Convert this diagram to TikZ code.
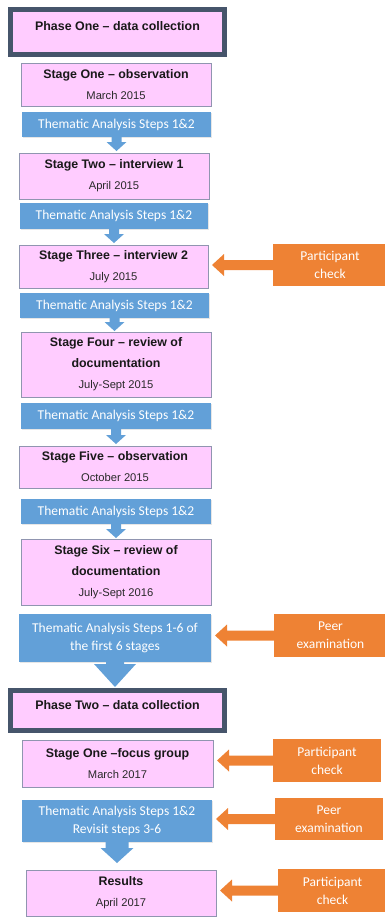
\documentclass[tikz,border=0pt]{standalone}
\usepackage{fontspec}
\setmainfont{Liberation Sans}
\newfontfamily\carlito{Carlito}
\usetikzlibrary{calc,shadows}

\definecolor{pinkfill}{HTML}{FFCCFF}
\definecolor{pinkline}{HTML}{9095B0}
\definecolor{phaseline}{HTML}{46556B}
\definecolor{stepblue}{HTML}{62A0D8}
\definecolor{checkorange}{HTML}{EE8234}
\definecolor{datetext}{HTML}{2A2A2A}

\newcommand\datefont{\fontsize{11.2}{21}\selectfont\mdseries\color{datetext}}

% block arrow pointing down from #1 to #2: shaft half width #3, head half width #4,
% head length #5, gap #6 between tip and target
\newcommand\downblock[6]{%
  \fill[stepblue] ($(#1)+(-#3,-1)$) -- ($(#1 |- #2)+(-#3,-#5-#6)$) -- ($(#1 |- #2)+(-#4,-#5-#6)$)
    -- ($(#1 |- #2)+(0,-#6)$) -- ($(#1 |- #2)+(#4,-#5-#6)$) -- ($(#1 |- #2)+(#3,-#5-#6)$)
    -- ($(#1)+(#3,-1)$) -- cycle;}

% block arrow pointing left from the box #1 to the box #2
\newcommand\leftblock[2]{%
  \fill[checkorange] ($(#1.west)+(1,-5)$) -- ($(#2.east |- #1.west)+(16,-5)$) -- ($(#2.east |- #1.west)+(16,-11)$)
    -- ($(#2.east |- #1.west)+(4,0)$) -- ($(#2.east |- #1.west)+(16,11)$) -- ($(#2.east |- #1.west)+(16,5)$)
    -- ($(#1.west)+(1,5)$) -- cycle;}

\tikzset{
  stagebox/.style={draw=pinkline, line width=1pt, fill=pinkfill, inner sep=0pt, outer sep=0pt,
    align=center, font=\fontsize{12.4}{21}\selectfont\bfseries, text=black!90,
    drop shadow={opacity=.3, shadow xshift=.6pt, shadow yshift=-1.4pt}},
  phasebox/.style={stagebox, draw=phaseline, line width=5pt},
  stepsbox/.style={fill=stepblue, inner sep=0pt, outer sep=0pt, align=center,
    font=\carlito\fontsize{13.5}{17.5}\selectfont, text=white,
    drop shadow={opacity=.2, shadow xshift=.5pt, shadow yshift=-1pt}},
  checkbox/.style={fill=checkorange, inner sep=0pt, outer sep=0pt, align=center,
    font=\carlito\fontsize{13.5}{18}\selectfont, text=white},
}

\begin{document}
\begin{tikzpicture}[x=1pt, y=-1pt]
\useasboundingbox (0,0) rectangle (385,918);

% Phase one
\node[phasebox, minimum width=214, minimum height=45] (p1) at (117.5,32)
  {\raisebox{6pt}[\height][\depth]{Phase One  – data collection}};

\node[stagebox, minimum width=190, minimum height=43] (s1) at (116,84.5)
  {Stage One – observation\\{\datefont March 2015}};
\node[stepsbox, minimum width=189, minimum height=25] (b1) at (116.5,124.5)
  {Thematic Analysis Steps 1\&2};

\node[stagebox, minimum width=190, minimum height=46] (s2) at (114,176)
  {Stage Two – interview 1\\{\datefont April 2015}};
\node[stepsbox, minimum width=188, minimum height=26] (b2) at (114,216)
  {Thematic Analysis Steps 1\&2};

\node[stagebox, minimum width=189, minimum height=43] (s3) at (113.5,266.5)
  {Stage Three – interview 2\\{\datefont July 2015}};
\node[stepsbox, minimum width=189, minimum height=25] (b3) at (114.5,305.5)
  {Thematic Analysis Steps 1\&2};

\node[stagebox, minimum width=190, minimum height=65] (s4) at (116,364.5)
  {Stage Four – review of\\documentation\\{\datefont July-Sept 2015}};
\node[stepsbox, minimum width=190, minimum height=26] (b4) at (116,416)
  {Thematic Analysis Steps 1\&2};

\node[stagebox, minimum width=192, minimum height=42] (s5) at (115,467)
  {Stage Five –  observation\\{\datefont October 2015}};
\node[stepsbox, minimum width=190, minimum height=25] (b5) at (116,511.5)
  {Thematic Analysis Steps 1\&2};

\node[stagebox, minimum width=190, minimum height=66] (s6) at (116,572)
  {Stage Six – review of\\documentation\\{\datefont July-Sept 2016}};
\node[stepsbox, minimum width=192, minimum height=48] (b6) at (115,638)
  {Thematic Analysis Steps 1-6 of\\the first 6 stages};

% Phase two
\node[phasebox, minimum width=214, minimum height=40] (p2) at (117.5,710.5)
  {\raisebox{5pt}[\height][\depth]{Phase Two – data collection}};

\node[stagebox, minimum width=191, minimum height=47] (t1) at (117.5,763.5)
  {Stage One –focus group\\{\datefont March 2017}};
\node[stepsbox, minimum width=190, minimum height=42] (b7) at (117,821)
  {Thematic Analysis Steps 1\&2\\Revisit steps 3-6};

\node[stagebox, minimum width=190, minimum height=46] (res) at (121,893)
  {Results\\{\datefont April 2017}};

% checks on the right
\node[checkbox, minimum width=114, minimum height=42] (o1) at (330,265) {Participant\\check};
\node[checkbox, minimum width=113, minimum height=43] (o2) at (330.5,635.5) {Peer\\examination};
\node[checkbox, minimum width=108, minimum height=43] (o3) at (327,760.5) {Participant\\check};
\node[checkbox, minimum width=108, minimum height=42] (o4) at (329,819) {Peer\\examination};
\node[checkbox, minimum width=109, minimum height=43] (o5) at (332.5,890.5) {Participant\\check};

% downward flow
\downblock{b1.south}{s2.north}{5}{10}{9}{2}
\downblock{b2.south}{s3.north}{5}{10}{9}{2}
\downblock{b3.south}{s4.north}{5}{10}{9}{1}
\downblock{b4.south}{s5.north}{5}{10}{9}{2}
\downblock{b5.south}{s6.north}{5}{10}{9}{1}
\downblock{b6.south}{p2.north}{9}{21}{23}{3.5}
\downblock{b7.south}{res.north}{11.5}{16.5}{15}{7}

% checks feeding back
\leftblock{o1}{s3}
\leftblock{o2}{b6}
\leftblock{o3}{t1}
\leftblock{o4}{b7}
\leftblock{o5}{res}
\end{tikzpicture}
\end{document}
